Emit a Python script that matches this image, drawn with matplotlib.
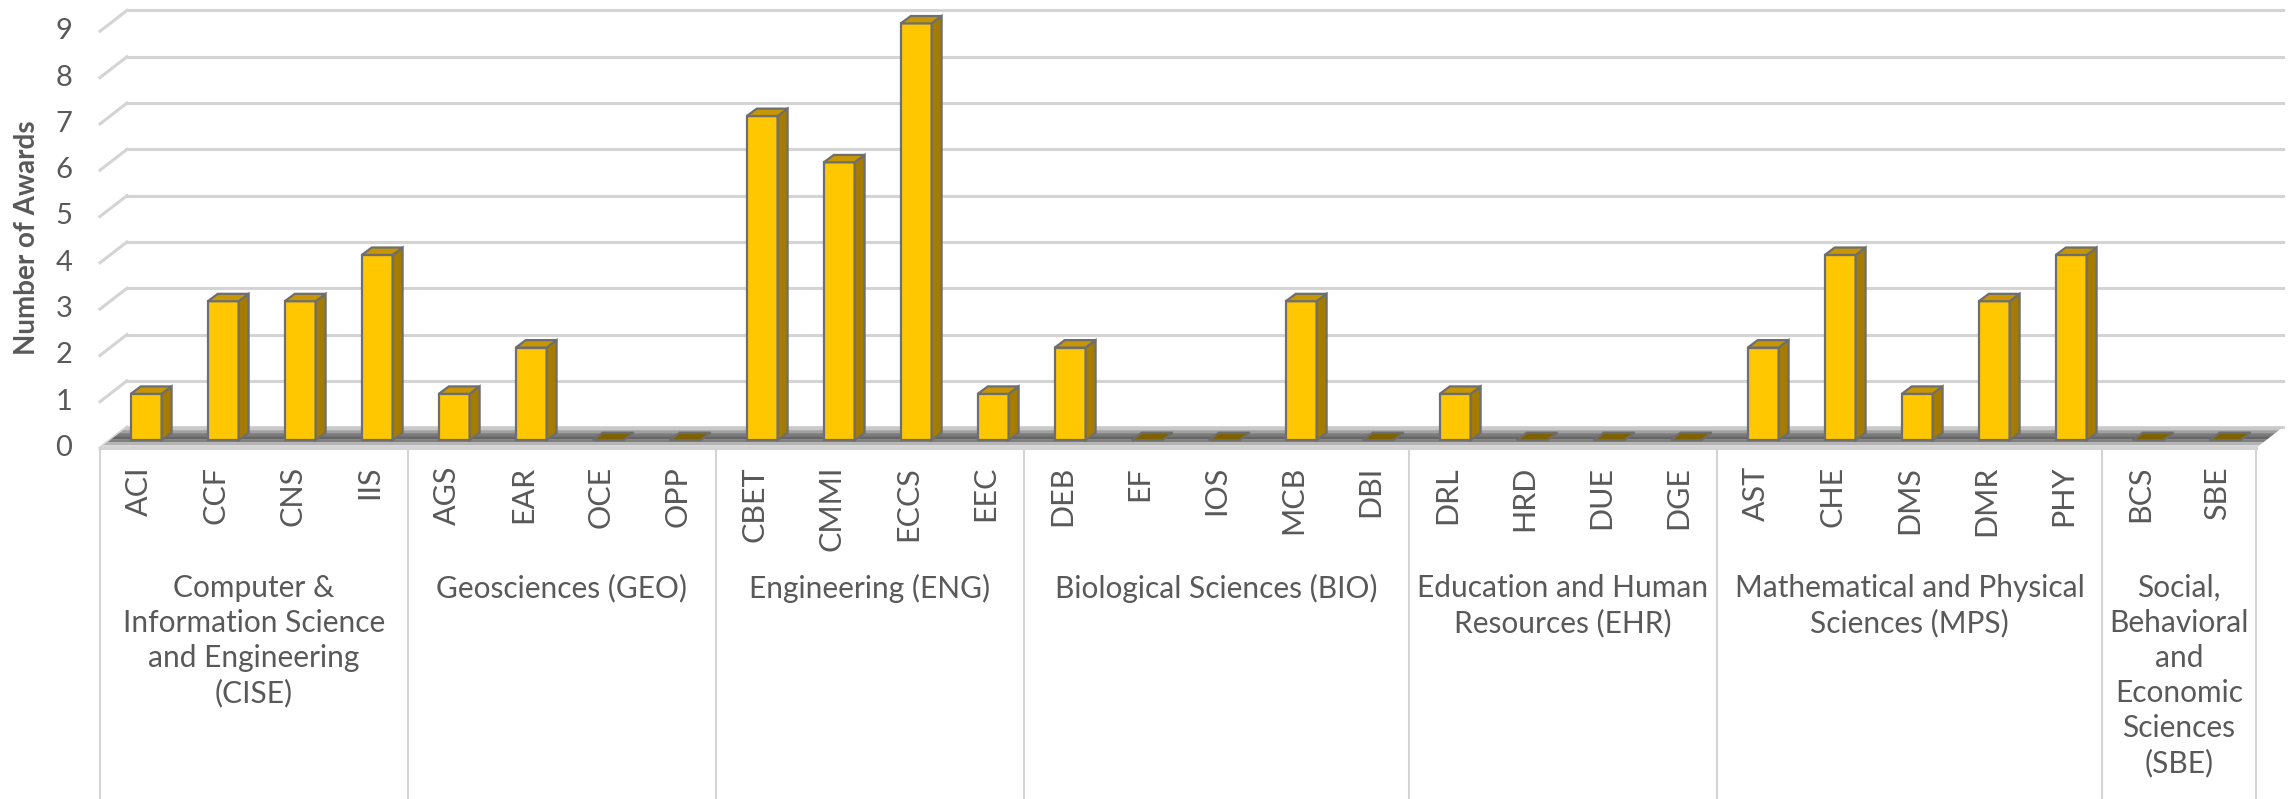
import matplotlib
matplotlib.use("Agg")
import matplotlib.pyplot as plt
from matplotlib.patches import Polygon

# data
groups = ["Computer &\nInformation Science\nand Engineering\n(CISE)",
          "Geosciences (GEO)",
          "Engineering (ENG)",
          "Biological Sciences (BIO)",
          "Education and Human\nResources (EHR)",
          "Mathematical and Physical\nSciences (MPS)",
          "Social,\nBehavioral\nand\nEconomic\nSciences\n(SBE)"]
divisions = [["ACI", "CCF", "CNS", "IIS"],
             ["AGS", "EAR", "OCE", "OPP"],
             ["CBET", "CMMI", "ECCS", "EEC"],
             ["DEB", "EF", "IOS", "MCB", "DBI"],
             ["DRL", "HRD", "DUE", "DGE"],
             ["AST", "CHE", "DMS", "DMR", "PHY"],
             ["BCS", "SBE"]]
awards = [[1, 3, 3, 4],
          [1, 2, 0, 0],
          [7, 6, 9, 1],
          [2, 0, 0, 3, 0],
          [1, 0, 0, 0],
          [2, 4, 1, 3, 4],
          [0, 0]]
yticks = list(range(0, 10))

# flatten
labels = [d for g in divisions for d in g]
values = [v for g in awards for v in g]
n = len(labels)

W, H = 2295, 799
ux, uy = 77.0, 46.3      # pixels per slot / per award
x0p, y0p = 100, 448      # origin of the front floor edge (pixels from top-left)

fig = plt.figure(figsize=(W / 100, H / 100), dpi=100)
ax = fig.add_axes([0, 0, 1, 1])
ax.set_xlim(-x0p / ux, (W - x0p) / ux)
ax.set_ylim(-(H - y0p) / uy, y0p / uy)
ax.axis("off")

txt = "#595959"
grid = "#d4d4d4"
font = "Lato"

# depth of the floor and of each column
dx, dy = 0.35, 0.45
sx, sy = 0.10, 0.17
bw = 0.40
bdx, bdy = 0.13, 0.16

# floor with a bit of shading
shades = ["#c8c8c8", "#a0a0a0", "#7a7a7a", "#666666", "#808080", "#b4b4b4", "#d8d8d8"]
k = len(shades)
for j, c in enumerate(shades):
    t0, t1 = 1 - j / k, 1 - (j + 1) / k
    ax.add_patch(Polygon([(t1 * dx, t1 * dy), (n + t1 * dx, t1 * dy),
                          (n + t0 * dx, t0 * dy), (t0 * dx, t0 * dy)],
                         closed=True, fc=c, ec="none", zorder=1))

# gridlines on the back wall and the left wall
for v in yticks:
    ax.plot([dx, n + dx], [v + dy, v + dy], color=grid, lw=2.2, zorder=0.5)
    ax.plot([0, dx], [v, v + dy], color=grid, lw=2.2, zorder=0.5)
    ax.text(-0.36, v, str(v), ha="right", va="center", fontsize=21,
            color=txt, family=font)

ax.text(-0.95, 4.55, "Number of Awards", rotation=90, ha="center", va="center",
        fontsize=20, fontweight="bold", color=txt, family=font)

# columns
edge = "#6e6e6e"
for i, v in enumerate(values):
    xl = i + 0.5 - bw / 2 + sx
    xr = xl + bw
    yb = sy
    yt = sy + v
    if v > 0:
        ax.add_patch(Polygon([(xl, yb), (xr, yb), (xr, yt), (xl, yt)],
                             fc="#ffc700", ec=edge, lw=1.6, zorder=3))
        ax.add_patch(Polygon([(xr, yb), (xr + bdx, yb + bdy), (xr + bdx, yt + bdy), (xr, yt)],
                             fc="#a67c00", ec=edge, lw=1.6, zorder=3))
        top_c = "#c89600"
    else:
        top_c = "#7f6200"
    ax.add_patch(Polygon([(xl, yt), (xr, yt), (xr + bdx, yt + bdy), (xl + bdx, yt + bdy)],
                         fc=top_c, ec=edge, lw=1.6, zorder=3))

# category axis: front edge, group boxes, labels
ybot = ax.get_ylim()[0]
ax.plot([0, n], [0, 0], color=grid, lw=2.2, zorder=2)
for i, lab in enumerate(labels):
    ax.text(i + 0.5, -(466 - y0p) / uy, lab, rotation=90, ha="center", va="top",
            fontsize=22, color=txt, family=font)

start = 0
for g, divs in zip(groups, divisions):
    ax.plot([start, start], [0, ybot], color=grid, lw=1.5, zorder=2)
    mid = start + len(divs) / 2
    ax.text(mid, -(574 - y0p) / uy, g, ha="center", va="top", fontsize=21.5,
            color=txt, family=font, linespacing=1.3)
    start += len(divs)
ax.plot([start, start], [0, ybot], color=grid, lw=1.5, zorder=2)

fig.savefig("out.png", dpi=100, facecolor="white")
